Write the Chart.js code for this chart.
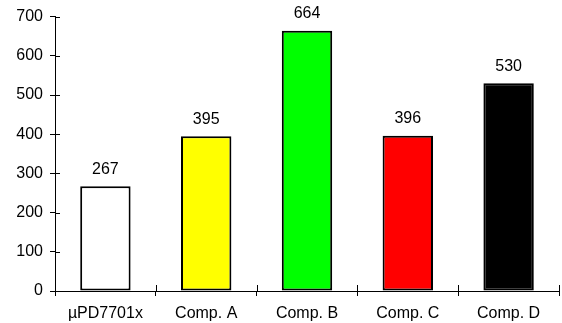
<!DOCTYPE html>
<html>
<head>
<meta charset="utf-8">
<script src="https://cdn.jsdelivr.net/npm/chart.js@4/dist/chart.umd.min.js"></script>
<style>
  html, body { margin: 0; padding: 0; background: #fff; }
  #wrap { width: 562px; height: 323px; }
</style>
</head>
<body>
<div id="wrap"><canvas id="c" width="562" height="323"></canvas></div>
<script>
const categories = ['µPD7701x', 'Comp. A', 'Comp. B', 'Comp. C', 'Comp. D'];
const values = [267, 395, 664, 396, 530];
const barColors = ['#ffffff', '#ffff00', '#00ff00', '#ff0000', '#000000'];
const yTicks = [0, 100, 200, 300, 400, 500, 600, 700];

const FONT = { family: '"Liberation Sans", Arial, sans-serif', size: 16 };

// Tick marks that cross the axis line: the library draws the outer half,
// this draws the inner half at the same scale positions.
const crossTicks = {
  id: 'crossTicks',
  afterDraw(chart) {
    const ctx = chart.ctx;
    const x = chart.scales.x, y = chart.scales.y;
    ctx.save();
    ctx.strokeStyle = '#000';
    ctx.lineWidth = 1;
    ctx.beginPath();
    y.ticks.forEach((t, i) => {
      const py = Math.round(y.getPixelForTick(i)) + 0.5;
      ctx.moveTo(y.right, py);
      ctx.lineTo(y.right + 5, py);
    });
    for (let i = 0; i <= categories.length; i++) {
      const px = Math.round(x.getPixelForValue(i - 0.5)) + 0.5;
      ctx.moveTo(px, x.top);
      ctx.lineTo(px, x.top - 6);
    }
    ctx.stroke();
    ctx.restore();
  }
};

// Value labels above each bar
const valueLabels = {
  id: 'valueLabels',
  afterDatasetsDraw(chart) {
    const ctx = chart.ctx;
    const meta = chart.getDatasetMeta(0);
    ctx.save();
    ctx.font = FONT.size + 'px ' + FONT.family;
    ctx.fillStyle = '#000';
    ctx.textAlign = 'center';
    ctx.textBaseline = 'bottom';
    meta.data.forEach((bar, i) => {
      ctx.fillText(String(values[i]), bar.x, bar.y - 9);
    });
    ctx.restore();
  }
};

new Chart(document.getElementById('c'), {
  type: 'bar',
  data: {
    labels: categories,
    datasets: [{
      data: values,
      backgroundColor: barColors,
      borderColor: '#000',
      borderWidth: 2,
      borderSkipped: false,
      categoryPercentage: 1,
      barPercentage: 0.5
    }]
  },
  options: {
    responsive: false,
    animation: false,
    devicePixelRatio: 1,
    layout: { padding: { top: 16, right: 3, left: 0, bottom: 0 } },
    plugins: { legend: { display: false }, tooltip: { enabled: false } },
    scales: {
      x: {
        offset: true,
        grid: { display: true, offset: true, drawOnChartArea: false, drawTicks: true, tickLength: 5, color: '#000' },
        border: { display: true, color: '#000', width: 1 },
        ticks: { color: '#000', font: FONT, padding: 8, maxRotation: 0 },
        afterFit(s) { s.height = 32; }
      },
      y: {
        min: 0,
        max: 700,
        afterBuildTicks(s) { s.ticks = yTicks.map(v => ({ value: v })); },
        grid: { display: true, drawOnChartArea: false, drawTicks: true, tickLength: 5, color: '#000' },
        border: { display: true, color: '#000', width: 1 },
        ticks: { color: '#000', font: FONT, padding: 7 },
        afterFit(s) { s.width = 55; }
      }
    }
  },
  plugins: [crossTicks, valueLabels]
});
</script>
</body>
</html>
